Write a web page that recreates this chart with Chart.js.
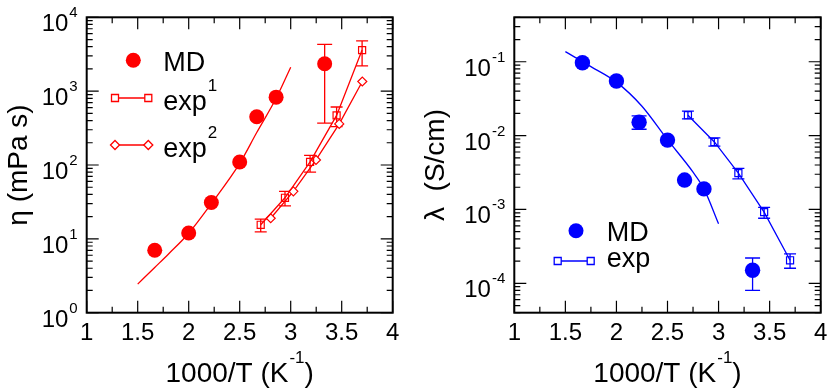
<!DOCTYPE html>
<html>
<head>
<meta charset="utf-8">
<script src="https://cdn.jsdelivr.net/npm/chart.js@4"></script>
<style>
  html, body { margin: 0; padding: 0; background: #fff; }
  #wrap { position: relative; width: 830px; height: 391px; }
  canvas { position: absolute; top: 0; }
  #eta-canvas { left: 0; }
  #lam-canvas { left: 415px; }
</style>
</head>
<body>
<div id="wrap">
  <canvas id="eta-canvas" width="415" height="391"></canvas>
  <canvas id="lam-canvas" width="415" height="391"></canvas>
</div>
<script>
// ---- Data ----------------------------------------------------------------
const xTicks = [1, 1.5, 2, 2.5, 3, 3.5, 4];
const xMinor = [1.25, 1.75, 2.25, 2.75, 3.25, 3.75];

// left panel: viscosity (mPa s)
const etaDecades = [0, 1, 2, 3, 4];
const mdX     = [1.667, 2.0, 2.222, 2.5, 2.667, 2.857, 3.333];
const mdEta   = [7.0, 12.0, 31.0, 110, 450, 830, 2350];
const mdEtaLo = [null, null, null, null, null, null, 370];
const mdEtaHi = [null, null, null, null, null, null, 4300];
const mdEtaFitX = [1.5, 1.667, 1.8, 2.0, 2.222, 2.5, 2.667, 2.857, 3.0];
const mdEtaFitY = [2.44, 4.1, 6.2, 11.9, 30, 105, 275, 800, 2110];
const exp1X   = [2.706, 2.944, 3.19, 3.45, 3.70];
const exp1Eta = [15.5, 36, 110, 470, 3600];
const exp1Lo  = [12.4, 28, 80, 330, 2200];
const exp1Hi  = [18.5, 44, 135, 610, 4800];
const exp2X   = [2.804, 3.026, 3.248, 3.476, 3.702];
const exp2Eta = [19, 44, 117, 360, 1350];

// right panel: conductivity (S/cm)
const lamDecades = [-4, -3, -2, -1];
const mdLam   = [0.097, 0.055, 0.0152, 0.0087, 0.0025, 0.0019, 0.00015];
const mdLamLo = [null, null, 0.0122, null, null, null, 0.00008];
const mdLamHi = [null, null, 0.0185, null, null, null, 0.00022];
const mdLamFitX = [1.5, 1.75, 2.0, 2.25, 2.5, 2.75, 2.857, 3.0];
const mdLamFitY = [0.137, 0.086, 0.053, 0.025, 0.0088, 0.0032, 0.0019, 0.00064];
const expLamX = [2.70, 2.959, 3.194, 3.446, 3.70];
const expLam  = [0.0189, 0.0082, 0.0031, 0.00092, 0.000205];
const expLamLo = [0.0169, 0.0072, 0.0026, 0.00076, 0.00016];
const expLamHi = [0.0214, 0.0093, 0.0036, 0.00107, 0.00025];

// ---- Helpers ---------------------------------------------------------------
const FONT = '"Liberation Sans", Arial, Helvetica, sans-serif';
const RED = "#ff0000", BLUE = "#0000ff";
const pts = (xs, ys) => xs.map((x, i) => ({ x, y: ys[i] }));

// text with a raised superscript, returns end x
function supText(ctx, x, y, main, sup, size, supSize, rise) {
    ctx.font = size + "px " + FONT;
    ctx.textAlign = "left";
    ctx.textBaseline = "alphabetic";
    ctx.fillText(main, x, y);
    const w = ctx.measureText(main).width;
    ctx.font = supSize + "px " + FONT;
    ctx.fillText(sup, x + w + 1, y - rise);
    return x + w + 1 + ctx.measureText(sup).width;
}

function drawFrame(chart, decades) {
    const { ctx, chartArea: a, scales: { x, y } } = chart;
    const MAJ = 12, MIN = 6;
    ctx.save();
    ctx.strokeStyle = "#000";
    ctx.lineWidth = 1.2;
    ctx.beginPath();
    const seg = (x1, y1, x2, y2) => { ctx.moveTo(x1, y1); ctx.lineTo(x2, y2); };
    xTicks.forEach((v) => {
        const p = x.getPixelForValue(v);
        seg(p, a.bottom, p, a.bottom - MAJ); seg(p, a.top, p, a.top + MAJ);
    });
    xMinor.forEach((v) => {
        const p = x.getPixelForValue(v);
        seg(p, a.bottom, p, a.bottom - MIN); seg(p, a.top, p, a.top + MIN);
    });
    decades.forEach((d) => {
        const p = y.getPixelForValue(Math.pow(10, d));
        seg(a.left, p, a.left + MAJ, p); seg(a.right, p, a.right - MAJ, p);
    });
    for (let d = decades[0] - 1; d <= decades[decades.length - 1]; d++) {
        for (let k = 2; k <= 9; k++) {
            const v = k * Math.pow(10, d);
            if (v < y.min || v > y.max) continue;
            const p = y.getPixelForValue(v);
            seg(a.left, p, a.left + MIN, p); seg(a.right, p, a.right - MIN, p);
        }
    }
    ctx.stroke();
    ctx.lineWidth = 2;
    ctx.strokeRect(a.left, a.top, a.right - a.left, a.bottom - a.top);

    // tick labels
    ctx.fillStyle = "#000";
    ctx.font = "24px " + FONT;
    ctx.textAlign = "center";
    ctx.textBaseline = "alphabetic";
    xTicks.forEach((v) => ctx.fillText(String(v), x.getPixelForValue(v), a.bottom + 27.5));
    decades.forEach((d) => {
        const p = y.getPixelForValue(Math.pow(10, d));
        ctx.font = "15px " + FONT;
        const sw = ctx.measureText(String(d)).width;
        ctx.font = "24px " + FONT;
        ctx.textAlign = "right";
        const right = a.left - 9 - sw - 1;
        ctx.fillText("10", right, p + 14);
        ctx.font = "15px " + FONT;
        ctx.textAlign = "left";
        ctx.fillText(String(d), right + 1, p);
    });

    // x title
    const t1 = "1000/T (K", t2 = ")";
    ctx.font = "17px " + FONT;
    const wSup = ctx.measureText("-1").width;
    ctx.font = "28px " + FONT;
    const wAll = ctx.measureText(t1).width + 1 + wSup + ctx.measureText(t2).width;
    const cx = (a.left + a.right) / 2;
    const end = supText(ctx, cx - wAll / 2, 381.5, t1, "-1", 28, 17, 19);
    ctx.font = "28px " + FONT;
    ctx.textAlign = "left";
    ctx.fillText(t2, end, 381.5);
    ctx.restore();
}

function drawYTitle(chart, text, xPos) {
    const { ctx, chartArea: a } = chart;
    ctx.save();
    ctx.translate(xPos, (a.top + a.bottom) / 2);
    ctx.rotate(-Math.PI / 2);
    ctx.font = "28px " + FONT;
    ctx.fillStyle = "#000";
    ctx.textAlign = "center";
    ctx.textBaseline = "middle";
    ctx.fillText(text, 0, 0);
    ctx.restore();
}

function drawErrors(chart, xs, lo, hi, color, cap) {
    const { ctx, chartArea: a, scales: { x, y } } = chart;
    ctx.save();
    ctx.beginPath();
    ctx.rect(a.left, a.top, a.right - a.left, a.bottom - a.top);
    ctx.clip();
    ctx.strokeStyle = color;
    ctx.lineWidth = 1.3;
    ctx.beginPath();
    xs.forEach((xv, i) => {
        if (lo[i] == null) return;
        const px = x.getPixelForValue(xv);
        const p1 = y.getPixelForValue(lo[i]), p2 = y.getPixelForValue(hi[i]);
        ctx.moveTo(px, p1); ctx.lineTo(px, p2);
        ctx.moveTo(px - cap / 2, p1); ctx.lineTo(px + cap / 2, p1);
        ctx.moveTo(px - cap / 2, p2); ctx.lineTo(px + cap / 2, p2);
    });
    ctx.stroke();
    ctx.restore();
}

// legend glyphs
function legCircle(ctx, x, y, color) {
    ctx.fillStyle = color;
    ctx.beginPath(); ctx.arc(x, y, 7.5, 0, Math.PI * 2); ctx.fill();
}
function legLine(ctx, x1, x2, y, color, shape) {
    ctx.strokeStyle = color; ctx.lineWidth = 1.3;
    ctx.beginPath(); ctx.moveTo(x1, y); ctx.lineTo(x2, y); ctx.stroke();
    [x1, x2].forEach((x) => {
        ctx.fillStyle = "#fff";
        ctx.beginPath();
        if (shape === "rect") ctx.rect(x - 3.5, y - 3.5, 7, 7);
        else { ctx.moveTo(x - 4.5, y); ctx.lineTo(x, y - 4.5); ctx.lineTo(x + 4.5, y); ctx.lineTo(x, y + 4.5); ctx.closePath(); }
        ctx.fill(); ctx.stroke();
    });
}

function baseOptions(yMin, yMax, yWidth, padRight) {
    return {
        responsive: false,
        animation: false,
        layout: { padding: { left: 0, top: 17.3, right: padRight, bottom: 0 } },
        plugins: { legend: { display: false }, tooltip: { enabled: false } },
        scales: {
            x: {
                type: "linear", min: 1, max: 4,
                grid: { display: false }, border: { display: false },
                ticks: { display: false },
                afterFit: (s) => { s.height = 78.3; },
            },
            y: {
                type: "logarithmic", min: yMin, max: yMax,
                grid: { display: false }, border: { display: false },
                ticks: { display: false },
                afterFit: (s) => { s.width = yWidth; },
            },
        },
    };
}

// ---- Left panel: viscosity --------------------------------------------------
const etaOpts = baseOptions(1, 1e4, 86.7, 22.3);
new Chart(document.getElementById("eta-canvas").getContext("2d"), {
    type: "scatter",
    data: { datasets: [
        { data: pts(mdEtaFitX, mdEtaFitY), showLine: true, borderColor: RED, borderWidth: 1.3,
          pointRadius: 0, cubicInterpolationMode: "monotone" },
        { data: pts(exp1X, exp1Eta), showLine: true, borderColor: RED, borderWidth: 1.3,
          pointStyle: "rect", pointRadius: 5, pointBorderWidth: 1.2,
          pointBorderColor: RED, pointBackgroundColor: "rgba(0,0,0,0)" },
        { data: pts(exp2X, exp2Eta), showLine: true, borderColor: RED, borderWidth: 1.3,
          pointStyle: "rectRot", pointRadius: 4.5, pointBorderWidth: 1.2,
          pointBorderColor: RED, pointBackgroundColor: "#fff" },
        { data: pts(mdX, mdEta), showLine: false, pointStyle: "circle", pointRadius: 7.5,
          pointBorderWidth: 0, pointBackgroundColor: RED, pointBorderColor: RED },
    ]},
    options: etaOpts,
    plugins: [{
        id: "eta-deco",
        beforeDatasetsDraw(chart) {
            drawErrors(chart, mdX, mdEtaLo, mdEtaHi, RED, 15);
            drawErrors(chart, exp1X, exp1Lo, exp1Hi, RED, 12);
        },
        afterDraw(chart) {
            const ctx = chart.ctx;
            drawFrame(chart, etaDecades);
            drawYTitle(chart, "η (mPa s)", 19);
            ctx.save();
            legCircle(ctx, 133.3, 60.3, RED);
            ctx.fillStyle = "#000";
            ctx.font = "27px " + FONT;
            ctx.fillText("MD", 163.3, 70.7);
            legLine(ctx, 115, 148.3, 98, RED, "rect");
            ctx.fillStyle = "#000";
            supText(ctx, 163.3, 110, "exp", "1", 27, 17, 19);
            legLine(ctx, 115, 148.3, 145, RED, "diamond");
            ctx.fillStyle = "#000";
            supText(ctx, 163.3, 157, "exp", "2", 27, 17, 19);
            ctx.restore();
        },
    }],
});

// ---- Right panel: conductivity ------------------------------------------------
const lamOpts = baseOptions(4e-5, 0.4, 99.3, 9.3);
new Chart(document.getElementById("lam-canvas").getContext("2d"), {
    type: "scatter",
    data: { datasets: [
        { data: pts(mdLamFitX, mdLamFitY), showLine: true, borderColor: BLUE, borderWidth: 1.3,
          pointRadius: 0, cubicInterpolationMode: "monotone" },
        { data: pts(expLamX, expLam), showLine: true, borderColor: BLUE, borderWidth: 1.3,
          pointStyle: "rect", pointRadius: 5, pointBorderWidth: 1.2,
          pointBorderColor: BLUE, pointBackgroundColor: "rgba(0,0,0,0)" },
        { data: pts(mdX, mdLam), showLine: false, pointStyle: "circle", pointRadius: 7.7,
          pointBorderWidth: 0, pointBackgroundColor: BLUE, pointBorderColor: BLUE },
    ]},
    options: lamOpts,
    plugins: [{
        id: "lam-deco",
        beforeDatasetsDraw(chart) {
            drawErrors(chart, mdX, mdLamLo, mdLamHi, BLUE, 15);
            drawErrors(chart, expLamX, expLamLo, expLamHi, BLUE, 12);
        },
        afterDraw(chart) {
            const ctx = chart.ctx;
            drawFrame(chart, lamDecades);
            drawYTitle(chart, "λ  (S/cm)", 21);
            ctx.save();
            legCircle(ctx, 161, 230.7, BLUE);
            ctx.fillStyle = "#000";
            ctx.font = "27px " + FONT;
            ctx.textAlign = "left";
            ctx.fillText("MD", 191.7, 240.7);
            legLine(ctx, 142.7, 175.7, 261, BLUE, "rect");
            ctx.fillStyle = "#000";
            ctx.font = "27px " + FONT;
            ctx.fillText("exp", 191.7, 266.7);
            ctx.restore();
        },
    }],
});
</script>
</body>
</html>
